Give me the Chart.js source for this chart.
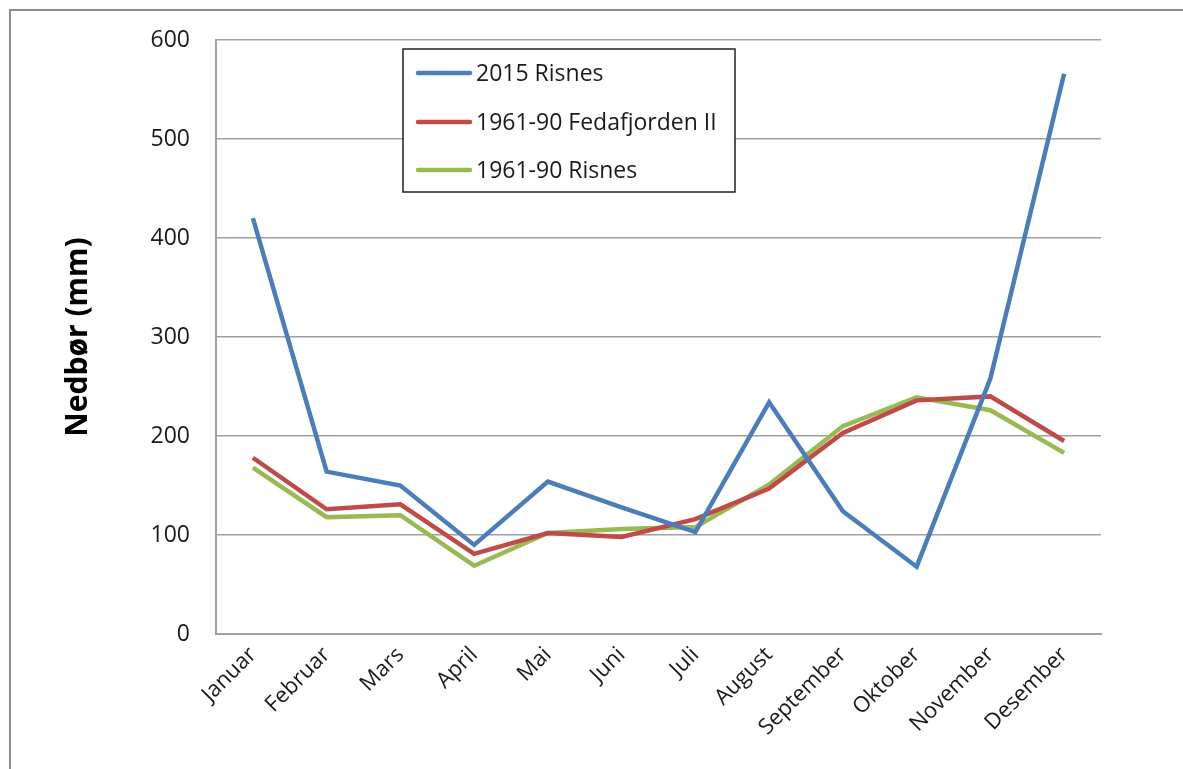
<!DOCTYPE html>
<html>
<head>
<meta charset="utf-8">
<script src="https://cdn.jsdelivr.net/npm/chart.js@4"></script>
<style>
  html, body { margin: 0; padding: 0; background: #ffffff; }
  #wrap { position: relative; width: 1183px; height: 769px; }
  canvas { display: block; }
</style>
</head>
<body>
<div id="wrap"><canvas id="c" width="1183" height="769"></canvas></div>
<script>
const months = ["Januar","Februar","Mars","April","Mai","Juni","Juli","August","September","Oktober","November","Desember"];
const risnes2015 = [420, 164, 150, 90, 154, 128, 103, 234, 124, 68, 258, 566];
const fedafjorden6190 = [178, 126, 131, 81, 102, 98, 116, 147, 203, 236, 240, 195];
const risnes6190 = [168, 118, 120, 69, 102, 106, 108, 151, 210, 239, 226, 183];
const seriesNames = ["2015 Risnes", "1961-90 Fedafjorden II", "1961-90 Risnes"];
const seriesColors = ["#4a7ebb", "#be4b48", "#98b954"];
const yTitle = "Nedbør (mm)";

const FONT = "'Open Sans', 'Noto Sans', 'Liberation Sans', sans-serif";

const framePlugin = {
  id: 'frame',
  beforeDraw(chart) {
    const ctx = chart.ctx;
    ctx.save();
    ctx.fillStyle = '#ffffff';
    ctx.fillRect(0, 0, chart.width, chart.height);
    ctx.strokeStyle = '#8c8c8c';
    ctx.lineWidth = 2;
    ctx.strokeRect(10, 10, chart.width + 20, chart.height + 20);
    ctx.restore();
  }
};

const legendBoxPlugin = {
  id: 'legendBox',
  afterDatasetsDraw(chart) {
    const ctx = chart.ctx;
    const x0 = 403, y0 = 49, w = 332, h = 143;
    ctx.save();
    ctx.fillStyle = '#ffffff';
    ctx.fillRect(x0, y0, w, h);
    ctx.strokeStyle = '#202020';
    ctx.lineWidth = 1.5;
    ctx.strokeRect(x0, y0, w, h);
    const rows = [73, 122, 170];
    chart.data.datasets.forEach((ds, i) => {
      const y = rows[i];
      ctx.strokeStyle = ds.borderColor;
      ctx.lineWidth = 4.5;
      ctx.lineCap = 'round';
      ctx.beginPath();
      ctx.moveTo(418, y);
      ctx.lineTo(470, y);
      ctx.stroke();
      ctx.fillStyle = '#1a1a1a';
      ctx.font = "23px " + FONT;
      ctx.textBaseline = 'middle';
      ctx.textAlign = 'left';
      ctx.fillText(ds.label, 476, y + 1);
    });
    ctx.restore();
  }
};

const datasets = [risnes2015, fedafjorden6190, risnes6190].map((d, i) => ({
  label: seriesNames[i],
  data: d,
  borderColor: seriesColors[i],
  backgroundColor: seriesColors[i],
  borderWidth: 4.5,
  pointRadius: 0,
  tension: 0,
  fill: false
}));

new Chart(document.getElementById('c'), {
  type: 'line',
  data: { labels: months, datasets: datasets },
  options: {
    responsive: false,
    animation: false,
    layout: { padding: { top: 40, right: 82, left: 0, bottom: 0 } },
    plugins: {
      legend: { display: false },
      tooltip: { enabled: false }
    },
    scales: {
      x: {
        offset: true,
        grid: { display: false, drawTicks: false },
        border: { display: true, color: '#a0a0a0', width: 2 },
        ticks: {
          color: '#1a1a1a',
          font: { family: FONT, size: 22 },
          minRotation: 45,
          maxRotation: 45,
          padding: 8,
          autoSkip: false
        },
        afterFit(scale) { scale.height = 135; }
      },
      y: {
        min: 0,
        max: 600,
        grid: { color: '#a0a0a0', lineWidth: 1.5, drawTicks: false },
        border: { display: true, color: '#a0a0a0', width: 2 },
        ticks: {
          stepSize: 100,
          color: '#1a1a1a',
          font: { family: FONT, size: 23 },
          padding: 26
        },
        title: {
          display: true,
          text: yTitle,
          color: '#000000',
          font: { family: FONT, size: 30, weight: 'bold' },
          padding: { top: 60, bottom: 0 }
        },
        afterFit(scale) { scale.width = 216; }
      }
    }
  },
  plugins: [framePlugin, legendBoxPlugin]
});
</script>
</body>
</html>
